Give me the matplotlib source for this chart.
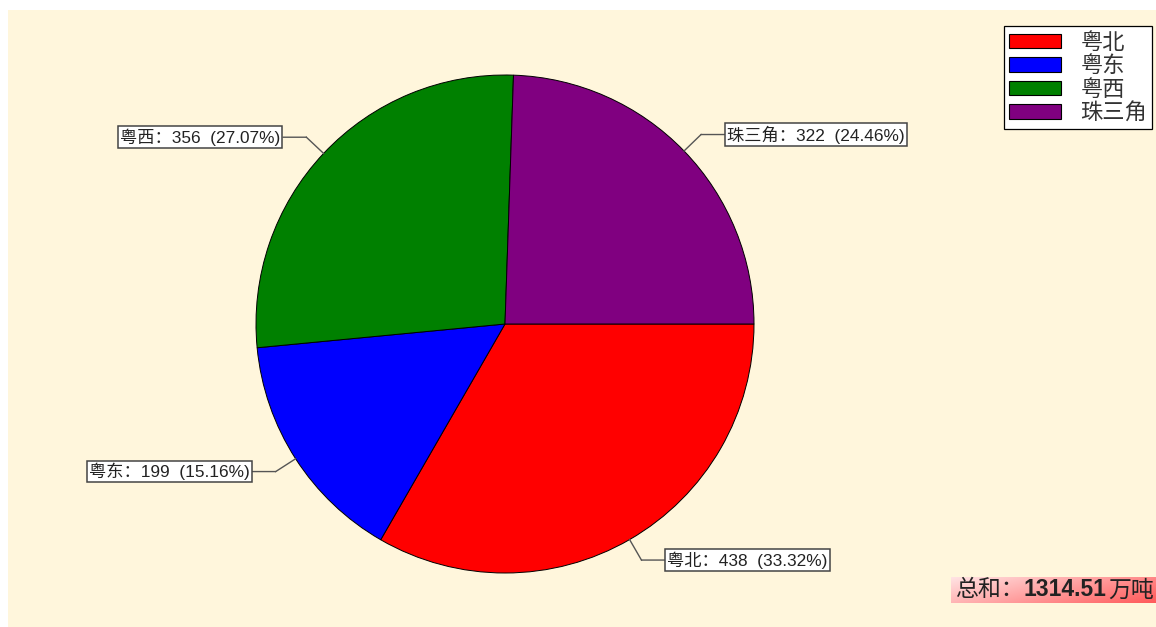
import numpy as np
import matplotlib
matplotlib.use("Agg")
import matplotlib.pyplot as plt
from matplotlib.patches import Rectangle, Patch

categories = ["粤北", "粤东", "粤西", "珠三角"]
values = [438.0, 199.3, 355.8, 321.5]
colors = ["#FF0000", "#0000FF", "#008000", "#800080"]
total_label = "1314.51"
unit = "万吨"

W, H = 1156, 627
fig = plt.figure(figsize=(W / 100, H / 100), dpi=100, facecolor="white")
FONT = ["Liberation Sans", "Noto Sans CJK SC"]
CJK = ["Noto Sans CJK SC", "DejaVu Sans"]

# cream background
fig.patches.append(Rectangle((8 / W, 0), 1 - 8 / W, (H - 10) / H, transform=fig.transFigure,
                             facecolor="#FFF6DC", edgecolor="none", zorder=-5))

cx, cy, r = 505, H - 324, 249
ax = fig.add_axes([(cx - r) / W, (cy - r) / H, 2 * r / W, 2 * r / H])
ax.set_zorder(2)
ax.axis("off")
ax.patch.set_alpha(0)

wedges, _ = ax.pie(values, colors=colors, startangle=0, counterclock=False, radius=1,
                   wedgeprops=dict(edgecolor="black", linewidth=0.7))
ax.set_xlim(-1, 1)
ax.set_ylim(-1, 1)

tot = sum(values)
for w, cat, v in zip(wedges, categories, values):
    ang = np.deg2rad((w.theta1 + w.theta2) / 2)
    x0, y0 = np.cos(ang), np.sin(ang)
    x1, y1 = 1.095 * x0, 1.095 * y0
    ax.plot([x0, x1], [y0, y1], color="#555555", lw=1.0, clip_on=False)
    side = 1 if x0 > 0 else -1
    txt = f"{cat}：{v:.0f}  ({v / tot * 100:.2f}%)"
    ax.annotate(txt, xy=(x1, y1), xytext=(side * 26, 0), textcoords="offset pixels",
                ha="left" if side > 0 else "right", va="center", fontsize=12.4,
                family=FONT, color="#222222",
                bbox=dict(boxstyle="square,pad=0.12", facecolor="white", edgecolor="#444444", lw=1.1),
                arrowprops=dict(arrowstyle="-", color="#555555", lw=1.0, shrinkA=0, shrinkB=0))

# legend
handles = [Patch(facecolor=c, edgecolor="black", lw=0.8) for c in colors]
leg = fig.legend(handles, categories, loc="upper right", bbox_to_anchor=(1152 / W, (H - 26) / H),
                 prop={"family": CJK, "size": 16}, frameon=True, fancybox=False,
                 edgecolor="black", framealpha=1, handlelength=2.35, handleheight=0.62,
                 labelspacing=0.02, borderpad=0.22, handletextpad=0.85, borderaxespad=0)
leg.get_frame().set_linewidth(0.9)
for t in leg.get_texts():
    t.set_color("#333333")

# total box with gradient
gx0, gx1, gy0, gy1 = 951, 1156, 577, 603
gax = fig.add_axes([gx0 / W, (H - gy1) / H, (gx1 - gx0) / W, (gy1 - gy0) / H])
gax.axis("off")
xx, yy = np.meshgrid(np.linspace(0, 1, 200), np.linspace(0, 1, 30))
t = 0.15 + 0.5 * xx + 0.25 * yy
img = np.ones((30, 200, 3))
img[..., 1] = 1 - 0.72 * t
img[..., 2] = 1 - 0.72 * t
gax.imshow(img, aspect="auto", extent=(0, 1, 1, 0))

fig.canvas.draw()
ty = (H - 590) / H
FS = 16.5
t1 = fig.text(955 / W, ty, "总和：", fontsize=FS, family=CJK, va="center", ha="left", color="#222222", zorder=5)
fig.canvas.draw()
bb = t1.get_window_extent()
t2 = fig.text(bb.x1 / W, ty, total_label, fontsize=FS, family=["Liberation Sans"], weight="bold",
              va="center", ha="left", color="#222222", zorder=5)
fig.canvas.draw()
bb2 = t2.get_window_extent()
fig.text(bb2.x1 / W + 2 / W, ty, unit, fontsize=FS, family=CJK, va="center", ha="left", color="#222222", zorder=5)

fig.savefig("out.png", dpi=100, facecolor="white")
